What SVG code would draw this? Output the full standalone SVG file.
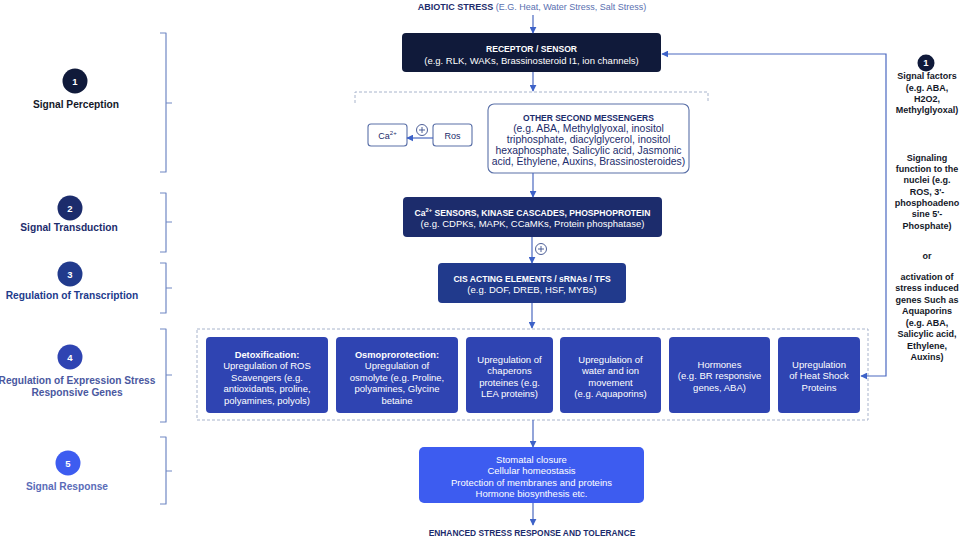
<svg xmlns="http://www.w3.org/2000/svg" width="964" height="539" viewBox="0 0 964 539">
<defs>
<style>
text{font-family:"Liberation Sans",Arial,sans-serif;text-anchor:middle}
.w{fill:#fff;font-size:9.5px}
.wb{fill:#fff;font-size:9.3px;font-weight:bold}
.hb{fill:#fff;font-size:8.6px;font-weight:bold}
.nv{fill:#1c2c6c;font-size:10.4px}
.nvb{fill:#1c2c6c;font-size:8.5px;font-weight:bold}
.rc{fill:#141828;font-size:9px;font-weight:bold}
.lbl{font-size:10.2px;font-weight:bold}
.num{fill:#fff;font-size:9.5px;font-weight:bold}
.br{fill:none;stroke:#7088c4;stroke-width:1.2;stroke-linejoin:round}
.con{fill:none;stroke:#4a68c0;stroke-width:1.2}
.wbox{fill:#fff;stroke:#5a70a8;stroke-width:1.1}
.gbox{fill:#2f44b2}
.dash{fill:none;stroke:#a8b4cc;stroke-width:1;stroke-dasharray:3,2}
</style>
<marker id="ah" viewBox="0 0 10 10" refX="9" refY="5" markerWidth="7" markerHeight="7" orient="auto-start-reverse" markerUnits="userSpaceOnUse">
<path d="M0,0 L10,5 L0,10 z" fill="#3d62c8"/>
</marker>
</defs>
<rect width="964" height="539" fill="#fff"/>

<g id="title">
<text x="532" y="10" font-size="9"><tspan font-weight="bold" fill="#1c2c6c">ABIOTIC STRESS</tspan><tspan fill="#5a6fb0"> (E.G. Heat, Water Stress, Salt Stress)</tspan></text>
</g>

<g id="brackets">
<path class="br" d="M160,33 H166 V103 H172 M166,103 V172 H160"/>
<path class="br" d="M160,193 H166 V222 H172 M166,222 V252 H160"/>
<path class="br" d="M160,263 H166 V288 H172 M166,288 V313 H160"/>
<path class="br" d="M160,329 H166 V375 H172 M166,375 V422 H160"/>
<path class="br" d="M160,437 H166 V471 H172 M166,471 V504 H160"/>
</g>

<g id="stage1">
<circle cx="75" cy="81" r="12.5" fill="#101a3a"/>
<text class="num" x="75" y="84.5">1</text>
<text class="lbl" x="76" y="107.5" fill="#141828">Signal Perception</text>
</g>
<g id="stage2">
<circle cx="70" cy="208" r="12.5" fill="#1c2c6c"/>
<text class="num" x="70" y="211.5">2</text>
<text class="lbl" x="69" y="230.5" fill="#1c2c6c">Signal Transduction</text>
</g>
<g id="stage3">
<circle cx="70" cy="274" r="12.5" fill="#213a8c"/>
<text class="num" x="70" y="277.5">3</text>
<text class="lbl" x="72" y="298.5" fill="#213a8c">Regulation of Transcription</text>
</g>
<g id="stage4">
<circle cx="70" cy="357" r="12.5" fill="#2f44b2"/>
<text class="num" x="70" y="360.5">4</text>
<text class="lbl" x="77" y="383.5" fill="#4a58a0">Regulation of Expression Stress</text>
<text class="lbl" x="77" y="395.5" fill="#4a58a0">Responsive Genes</text>
</g>
<g id="stage5">
<circle cx="68" cy="463" r="12.5" fill="#3d5cf0"/>
<text class="num" x="68" y="466.5">5</text>
<text class="lbl" x="67" y="489.5" fill="#5a6cb8">Signal Response</text>
</g>

<g id="receptor">
<rect x="402" y="33" width="259" height="39" rx="4" fill="#101a3a"/>
<text class="hb" x="531.5" y="51.5">RECEPTOR / SENSOR</text>
<text class="w" x="531.5" y="63.8">(e.g. RLK, WAKs, Brassinosteroid I1, ion channels)</text>
</g>

<g id="second-messenger-area">
<path class="dash" d="M355,103 V92 H708 V101"/>
</g>

<g id="ca">
<rect class="wbox" x="368" y="124" width="39" height="22" rx="3"/>
<text x="387.5" y="138.5" font-size="9" fill="#1c2c6c">Ca<tspan font-size="6" dy="-3.5">2+</tspan></text>
</g>
<g id="ros">
<rect class="wbox" x="433" y="124" width="39" height="22" rx="3"/>
<text x="452.5" y="138.5" font-size="9" fill="#1c2c6c">Ros</text>
</g>

<g id="other-messengers">
<rect class="wbox" x="488" y="104" width="201" height="69" rx="6"/>
<text class="nvb" x="588.5" y="120.5">OTHER SECOND MESSENGERS</text>
<text class="nv" x="588.5" y="131.5">(e.g. ABA, Methylglyoxal, inositol</text>
<text class="nv" x="588.5" y="142.5">triphosphate, diacylglycerol, inositol</text>
<text class="nv" x="588.5" y="153.5">hexaphosphate, Salicylic acid, Jasmonic</text>
<text class="nv" x="588.5" y="164.5">acid, Ethylene, Auxins, Brassinosteroides)</text>
</g>

<g id="ca-sensors">
<rect x="403" y="197" width="259" height="40" rx="4" fill="#1c2c6c"/>
<text class="hb" x="532.5" y="215.5">Ca<tspan font-size="5.8" dy="-3.3">2+</tspan><tspan dy="3.3"> SENSORS, KINASE CASCADES,  PHOSPHOPROTEIN</tspan></text>
<text class="w" x="532.5" y="227" font-size="9.7">(e.g. CDPKs, MAPK, CCaMKs, Protein phosphatase)</text>
</g>

<g id="cis">
<rect x="438" y="263" width="188" height="40" rx="4" fill="#213a8c"/>
<text class="hb" x="532" y="281.5" font-size="8.7">CIS ACTING ELEMENTS / sRNAs / TFS</text>
<text class="w" x="532" y="293" font-size="9">(e.g. DOF, DREB, HSF, MYBs)</text>
</g>

<g id="genes-area">
<rect class="dash" x="197" y="329" width="671" height="91"/>
</g>

<g id="detox">
<rect class="gbox" x="206" y="337" width="122" height="76" rx="4"/>
<text class="wb" x="267" y="357.5">Detoxification:</text>
<text class="w" x="267" y="369">Upregulation of ROS</text>
<text class="w" x="267" y="380.5">Scavengers (e.g.</text>
<text class="w" x="267" y="392">antioxidants, proline,</text>
<text class="w" x="267" y="403.5">polyamines, polyols)</text>
</g>
<g id="osmo">
<rect class="gbox" x="336" y="337" width="122" height="76" rx="4"/>
<text class="wb" x="397" y="357.5">Osmoprorotection:</text>
<text class="w" x="397" y="369">Upregulation of</text>
<text class="w" x="397" y="380.5">osmolyte (e.g. Proline,</text>
<text class="w" x="397" y="392">polyamines, Glycine</text>
<text class="w" x="397" y="403.5">betaine</text>
</g>
<g id="chaperons">
<rect class="gbox" x="466" y="337" width="87" height="76" rx="4"/>
<text class="w" x="509.5" y="362.5">Upregulation of</text>
<text class="w" x="509.5" y="374">chaperons</text>
<text class="w" x="509.5" y="385.5">proteines (e.g.</text>
<text class="w" x="509.5" y="397">LEA proteins)</text>
</g>
<g id="water">
<rect class="gbox" x="560" y="337" width="101" height="76" rx="4"/>
<text class="w" x="610.5" y="362.5">Upregulation of</text>
<text class="w" x="610.5" y="374">water and ion</text>
<text class="w" x="610.5" y="385.5">movement</text>
<text class="w" x="610.5" y="397">(e.g. Aquaporins)</text>
</g>
<g id="hormones">
<rect class="gbox" x="669" y="337" width="101" height="76" rx="4"/>
<text class="w" x="719.5" y="367.5">Hormones</text>
<text class="w" x="719.5" y="379">(e.g. BR responsive</text>
<text class="w" x="719.5" y="390.5">genes, ABA)</text>
</g>
<g id="heat-shock">
<rect class="gbox" x="778" y="337" width="82" height="76" rx="4"/>
<text class="w" x="819" y="367.5">Upregulation</text>
<text class="w" x="819" y="379">of Heat Shock</text>
<text class="w" x="819" y="390.5">Proteins</text>
</g>

<g id="response">
<rect x="419" y="447" width="225" height="56" rx="5" fill="#3d5cf0"/>
<text class="w" x="531.5" y="462.5" font-size="10.2">Stomatal closure</text>
<text class="w" x="531.5" y="474" font-size="10.2">Cellular homeostasis</text>
<text class="w" x="531.5" y="485.5" font-size="10.2">Protection of membranes and proteins</text>
<text class="w" x="531.5" y="497" font-size="10.2">Hormone biosynthesis etc.</text>
</g>

<g id="outcome">
<text x="532" y="536" font-size="8.4" font-weight="bold" fill="#1c2c6c">ENHANCED STRESS RESPONSE AND TOLERANCE</text>
</g>

<g id="signal-factors">
<circle cx="926" cy="63" r="8.5" fill="#101a3a"/>
<text class="num" x="926" y="66.3" font-size="8.5">1</text>
<text class="rc" x="927" y="79">Signal factors</text>
<text class="rc" x="927" y="90.5">(e.g. ABA,</text>
<text class="rc" x="927" y="101.5">H2O2,</text>
<text class="rc" x="927" y="113">Methylglyoxal)</text>
<text class="rc" x="927" y="160.5">Signaling</text>
<text class="rc" x="927" y="172">function to the</text>
<text class="rc" x="927" y="183">nuclei (e.g.</text>
<text class="rc" x="927" y="194.5">ROS, 3'-</text>
<text class="rc" x="927" y="206">phosphoadeno</text>
<text class="rc" x="927" y="217">sine 5'-</text>
<text class="rc" x="927" y="228.5">Phosphate)</text>
<text class="rc" x="927" y="258.5">or</text>
<text class="rc" x="927" y="279.5">activation of</text>
<text class="rc" x="927" y="291">stress induced</text>
<text class="rc" x="927" y="302.5">genes Such as</text>
<text class="rc" x="927" y="314">Aquaporins</text>
<text class="rc" x="927" y="325.5">(e.g. ABA,</text>
<text class="rc" x="927" y="337">Salicylic acid,</text>
<text class="rc" x="927" y="348.5">Ethylene,</text>
<text class="rc" x="927" y="360">Auxins)</text>
</g>

<g id="connectors">
<line class="con" x1="533" y1="15" x2="533" y2="33" marker-end="url(#ah)"/>
<line class="con" x1="533" y1="72" x2="533" y2="91" marker-end="url(#ah)"/>
<line class="con" x1="433" y1="138" x2="407" y2="138" marker-end="url(#ah)"/>
<line class="con" x1="533" y1="173" x2="533" y2="197" marker-end="url(#ah)"/>
<line class="con" x1="532" y1="237" x2="532" y2="263" marker-end="url(#ah)"/>
<line class="con" x1="532" y1="303" x2="532" y2="328" marker-end="url(#ah)"/>
<line class="con" x1="533" y1="420" x2="533" y2="447" marker-end="url(#ah)"/>
<line class="con" x1="533" y1="503" x2="533" y2="525" marker-end="url(#ah)"/>
<path class="con" d="M861,376 H886 V54 H662" marker-start="url(#ah)" marker-end="url(#ah)"/>
<g fill="#fff" stroke="#3a4e8c" stroke-width="0.9">
<circle cx="422" cy="130" r="5.5"/>
<path d="M419,130 H425 M422,127 V133"/>
<circle cx="541" cy="249" r="5.5"/>
<path d="M538,249 H544 M541,246 V252"/>
</g>
</g>
</svg>
